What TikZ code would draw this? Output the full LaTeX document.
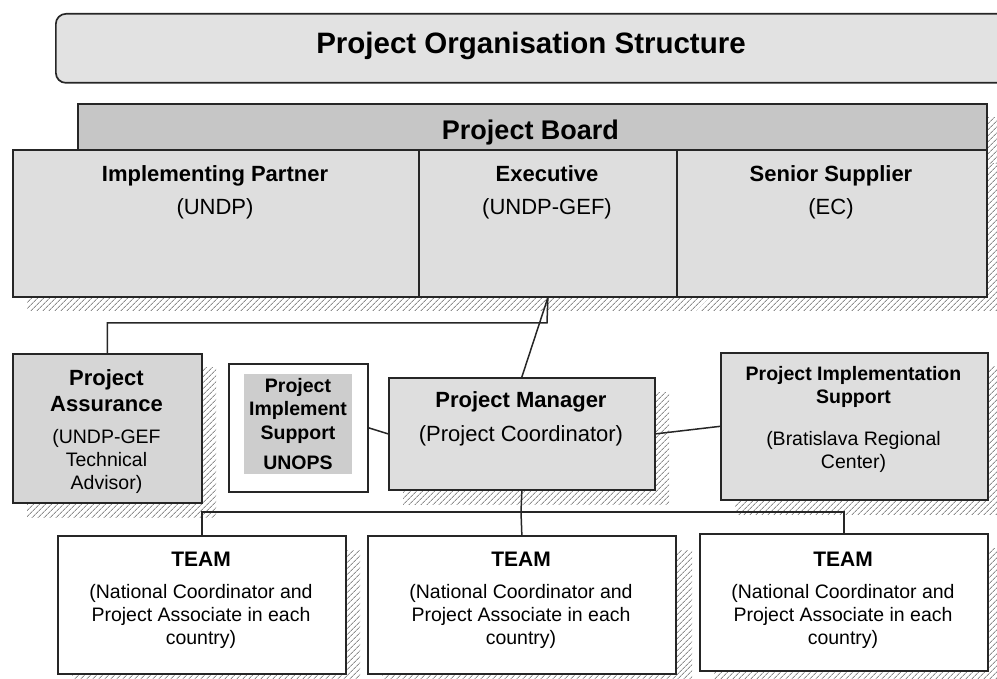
\documentclass[tikz,border=0pt]{standalone}
\usepackage{fontspec}
\setmainfont{Liberation Sans}
\usetikzlibrary{patterns.meta}
\definecolor{boxgray}{HTML}{DEDEDE}
\definecolor{headgray}{HTML}{C6C6C6}
\definecolor{pagray}{HTML}{D6D6D6}
\definecolor{innergray}{HTML}{CDCDCD}
\definecolor{titlegray}{HTML}{E2E2E2}
\definecolor{hatchgray}{HTML}{8E8E8E}
\begin{document}
\begin{tikzpicture}[x=1pt,y=1pt,
  box/.style={draw=black!85, line width=1.7pt, fill=boxgray, inner sep=0pt, anchor=north west},
  wbox/.style={box, fill=white},
  hatch/.style={pattern={Lines[angle=45,distance=4pt,line width=1pt]}, pattern color=hatchgray},
  conn/.style={draw=black!85, line width=1.5pt},
  tb/.style={anchor=base, inner sep=0pt, font=\fontsize{22}{26}\selectfont\bfseries},
  tr/.style={anchor=base, inner sep=0pt, font=\fontsize{22}{26}\selectfont},
  sb/.style={anchor=base, inner sep=0pt, font=\fontsize{19.5}{23}\selectfont\bfseries},
  sr/.style={anchor=base, inner sep=0pt, font=\fontsize{19.5}{23}\selectfont},
]
\useasboundingbox (0,0) rectangle (997,-679);
\begin{scope}
\clip (0,0) rectangle (997,-679);

% shadows
\fill[hatch] (92,-118) rectangle (1003,-164);
\fill[hatch] (27,-164) rectangle (1003,-311);
\fill[hatch] (27,-368) rectangle (216,-517);
\fill[hatch] (403,-392) rectangle (669,-504);
\fill[hatch] (735,-367) rectangle (1003,-514);
\fill[hatch] (72,-550) rectangle (360,-690);
\fill[hatch] (382,-550) rectangle (692,-690);
\fill[hatch] (714,-548) rectangle (1003,-690);

% title
\node[box, fill=titlegray, rounded corners=10pt, minimum width=960pt, minimum height=69pt] (titlebox) at (55,-13) {};
\node[anchor=base, inner sep=0pt, font=\fontsize{29.5}{34}\selectfont\bfseries] (title) at (531,-54) {Project Organisation Structure};

% project board
\node[box, fill=headgray, minimum width=909pt, minimum height=46pt] (board) at (77,-103) {};
\node[anchor=base, inner sep=0pt, font=\fontsize{27}{31}\selectfont\bfseries] (boardtxt) at (530.5,-140) {Project Board};
\node[box, minimum width=406pt, minimum height=147pt] (ip) at (12,-149) {};
\node[box, minimum width=258pt, minimum height=147pt] (exec) at (418,-149) {};
\node[box, minimum width=310pt, minimum height=147pt] (ss) at (676,-149) {};
\node[tb] (ip1) at (215,-182) {Implementing Partner};
\node[tr] (ip2) at (215,-215) {(UNDP)};
\node[tb] (ex1) at (547,-182) {Executive};
\node[tr] (ex2) at (547,-215) {(UNDP-GEF)};
\node[tb] (ss1) at (831,-182) {Senior Supplier};
\node[tr] (ss2) at (831,-215) {(EC)};

% project assurance
\node[box, fill=pagray, minimum width=189pt, minimum height=149pt] (pa) at (12,-353) {};
\node[tb] (pa1) at (106.5,-385) {Project};
\node[tb] (pa2) at (106.5,-411) {Assurance};
\node[sr] (pa3) at (106.5,-443) {(UNDP-GEF};
\node[sr] (pa4) at (106.5,-466) {Technical};
\node[sr] (pa5) at (106.5,-489) {Advisor)};

% project implement support UNOPS
\node[wbox, minimum width=139pt, minimum height=128pt] (unops) at (228,-363) {};
\fill[innergray] (244,-374) rectangle (352,-474);
\node[sb] (un1) at (298,-392) {Project};
\node[sb] (un2) at (298,-415) {Implement};
\node[sb] (un3) at (298,-439) {Support};
\node[sb] (un4) at (298,-469) {UNOPS};

% project manager
\node[box, minimum width=266pt, minimum height=112pt] (pm) at (388,-377) {};
\node[tb] (pm1) at (521,-407) {Project Manager};
\node[tr] (pm2) at (521,-441) {(Project Coordinator)};

% project implementation support (right)
\node[box, minimum width=267pt, minimum height=147pt] (pis) at (720,-352) {};
\node[sb] (pis1) at (853.5,-381) {Project Implementation};
\node[sb] (pis2) at (853.5,-403) {Support};
\node[sr] (pis3) at (853.5,-445) {(Bratislava Regional};
\node[sr] (pis4) at (853.5,-468) {Center)};

% teams
\node[wbox, minimum width=288pt, minimum height=138pt] (team1) at (57,-535) {};
\node[wbox, minimum width=308pt, minimum height=138pt] (team2) at (367,-535) {};
\node[wbox, minimum width=288pt, minimum height=137pt] (team3) at (699,-533) {};
\foreach \n/\cx in {a/201,b/521,c/843}{
  \node[anchor=base, inner sep=0pt, font=\fontsize{21}{25}\selectfont\bfseries] (t\n1) at (\cx,-566) {TEAM};
  \node[sr] (t\n2) at (\cx,-598) {(National Coordinator and};
  \node[sr] (t\n3) at (\cx,-621) {Project Associate in each};
  \node[sr] (t\n4) at (\cx,-644) {country)};
}

% connectors
\coordinate (pabend) at (547,-323);
\draw[conn] (exec.south) -- (pabend) -| (pa.north);
\draw[conn] (exec.south) -- (pm.north);
\draw[conn] (unops.east) -- (pm.west);
\draw[conn] (pm.east) -- (pis.west);
\coordinate (bus) at (521,-512);
\draw[conn] (pm.south) -- (bus);
\draw[conn] (team1.north) |- (bus) -| (team3.north);
\draw[conn] (bus) -- (team2.north);
\end{scope}
\end{tikzpicture}
\end{document}
